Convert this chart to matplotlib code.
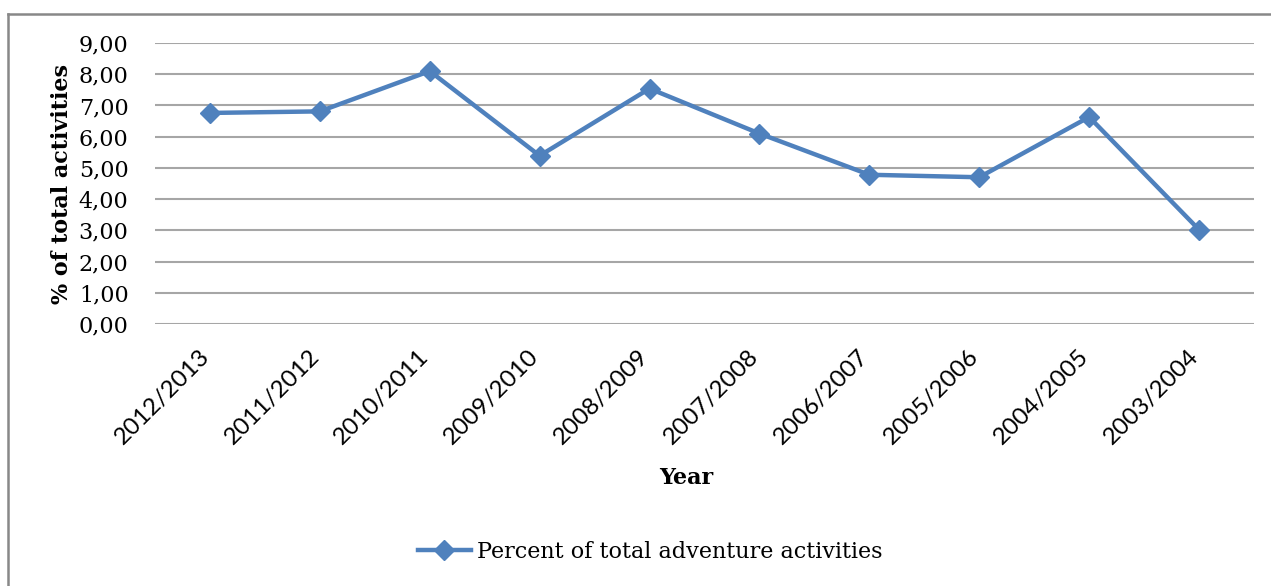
import matplotlib
matplotlib.use("Agg")
import matplotlib.pyplot as plt
from matplotlib.lines import Line2D
from matplotlib.transforms import ScaledTranslation

categories = ["2012/2013", "2011/2012", "2010/2011", "2009/2010", "2008/2009",
              "2007/2008", "2006/2007", "2005/2006", "2004/2005", "2003/2004"]
values = [6.76, 6.81, 8.10, 5.39, 7.54, 6.10, 4.78, 4.70, 6.63, 3.02]
yticks = [0, 1, 2, 3, 4, 5, 6, 7, 8, 9]
series_name = "Percent of total adventure activities"

W, H = 1271, 586
fig = plt.figure(figsize=(W / 100, H / 100), dpi=100)
fig.patch.set_facecolor("white")

serif = ["DejaVu Serif"]
sans = ["Lato", "DejaVu Sans"]

ax = fig.add_axes([155 / W, 1 - 324 / H, (1254 - 155) / W, (324 - 43) / H])
x = list(range(len(categories)))
line, = ax.plot(x, values, color="#4F81BD", lw=3.2, marker="D", markersize=10,
                markerfacecolor="#4F81BD", markeredgecolor="#4F81BD",
                label=series_name, solid_joinstyle="miter")

ax.set_xlim(-0.5, len(categories) - 0.5)
ax.set_ylim(0, 9)
ax.set_yticks(yticks)
ax.set_yticklabels([f"{v:.2f}".replace(".", ",") for v in yticks],
                   fontfamily=serif, fontsize=16)
ax.set_xticks(x)
ax.tick_params(axis="both", length=0)
ax.tick_params(axis="y", pad=19)
ax.tick_params(axis="x", pad=21)
ax.set_xticklabels(categories, rotation=45, ha="right", va="center",
                   rotation_mode="anchor", fontfamily=sans, fontsize=17.5)
offset = ScaledTranslation(-4 / 100, 0, fig.dpi_scale_trans)
for lab in ax.get_xticklabels():
    lab.set_transform(lab.get_transform() + offset)
for s in ax.spines.values():
    s.set_visible(False)
ax.grid(axis="y", color="#A6A6A6", lw=1.5)
ax.set_axisbelow(True)

ax.set_ylabel("% of total activities", fontfamily=serif, fontsize=16,
              fontweight="bold", labelpad=4)
fig.text(686 / W, 1 - 478 / H, "Year", fontfamily=serif, fontsize=16,
         fontweight="bold", ha="center", va="center")

fig.legend(handles=[line], loc="center", bbox_to_anchor=(650 / W, 1 - 552 / H),
           frameon=False, prop={"family": serif, "size": 16},
           handlelength=2.4, handletextpad=0.25)

# outer border
fig.add_artist(Line2D([8 / W, 8 / W], [0, 1 - 14 / H], transform=fig.transFigure,
                      color="#888888", lw=1.8))
fig.add_artist(Line2D([8 / W, 1], [1 - 14 / H, 1 - 14 / H], transform=fig.transFigure,
                      color="#888888", lw=1.8))

fig.savefig("out.png", dpi=100, facecolor="white")
